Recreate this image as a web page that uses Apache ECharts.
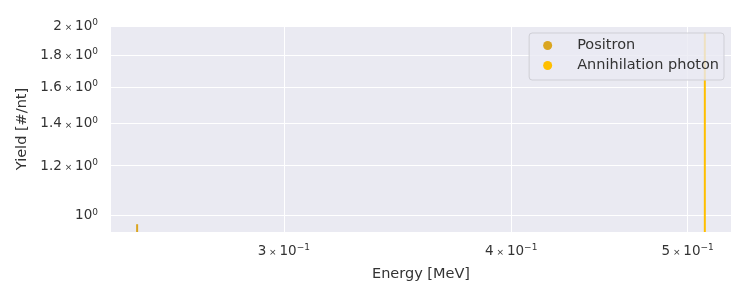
<!DOCTYPE html>
<html><head><meta charset="utf-8">
<script src="https://cdn.jsdelivr.net/npm/echarts@6/dist/echarts.min.js"></script>
<style>html,body{margin:0;padding:0;background:#fff}#c{width:750px;height:300px}</style>
</head><body><div id="c"></div>
<script>
const seriesNames = ['Positron', 'Annihilation photon'];
const energies = [0.2492, 0.511];
const yields = [0.968, 1.95];
const colors = ['#DAA520', '#FFBF00'];
const xTickValues = [0.3, 0.4, 0.5];
const xTickMant = ['3', '4', '5'];
const xTickExp = ['−1', '−1', '−1'];
const yTickValues = [1.0, 1.2, 1.4, 1.6, 1.8, 2.0];
const yTickMant = ['', '1.2', '1.4', '1.6', '1.8', '2'];
const yTickExp = ['0', '0', '0', '0', '0', '0'];
const xRange = [0.2411, 0.5282];
const yRange = [0.9408, 2.0];

const FONT = '"DejaVu Sans", sans-serif';
function fmt(vals, mant, exps) {
  return function (v) {
    let i = vals.findIndex(t => Math.abs(t - v) < 1e-9);
    if (i < 0) return '';
    let s = '';
    if (mant[i]) s += '{m|' + mant[i] + '}{x| × }';
    s += '{m|10}{e|' + exps[i] + '}';
    return s;
  };
}
const rich = {
  m: {fontSize: 13.5, color: '#333', fontFamily: FONT, lineHeight: 15, verticalAlign: 'bottom'},
  x: {fontSize: 9, color: '#333', fontFamily: FONT, lineHeight: 15, verticalAlign: 'bottom', padding: [0, 0, 1, 0]},
  e: {fontSize: 9, color: '#333', fontFamily: FONT, lineHeight: 15, verticalAlign: 'top'}
};

const series = seriesNames.map((n, i) => ({
  name: n,
  type: 'line',
  showSymbol: false,
  symbol: 'circle',
  color: colors[i],
  lineStyle: {width: 2, color: colors[i]},
  data: [[energies[i], yRange[0]], [energies[i], yields[i]]],
  animation: false
}));

const chart = echarts.init(document.getElementById('c'));
chart.setOption({
  animation: false,
  grid: {left: 111, right: 19, top: 26, bottom: 68, show: true, backgroundColor: '#EAEAF2', borderWidth: 0},
  legend: {
    right: 26, top: 33, orient: 'vertical', icon: 'circle', itemWidth: 9, itemHeight: 9, itemGap: 3,
    padding: [4, 5, 6, 14],
    backgroundColor: 'rgba(234,234,242,0.8)', borderColor: '#cfcfd6', borderWidth: 1, borderRadius: 3,
    textStyle: {fontSize: 14.5, lineHeight: 17, color: '#333', fontFamily: FONT, padding: [0, 0, 0, 20]},
    data: seriesNames
  },
  xAxis: {
    type: 'log', min: xRange[0], max: xRange[1],
    name: 'Energy [MeV]', nameLocation: 'middle', nameGap: 35,
    nameTextStyle: {fontSize: 14.5, color: '#333', fontFamily: FONT},
    axisLine: {show: false}, axisTick: {show: false, customValues: xTickValues},
    axisLabel: {customValues: xTickValues, formatter: fmt(xTickValues, xTickMant, xTickExp), rich: rich, margin: 11},
    splitLine: {show: true, lineStyle: {color: '#fff', width: 1}}
  },
  yAxis: {
    type: 'log', min: yRange[0], max: yRange[1],
    name: 'Yield [#/nt]', nameLocation: 'middle', nameGap: 80,
    nameTextStyle: {fontSize: 14.5, color: '#333', fontFamily: FONT},
    axisLine: {show: false}, axisTick: {show: false, customValues: yTickValues},
    axisLabel: {customValues: yTickValues, formatter: fmt(yTickValues, yTickMant, yTickExp), rich: rich, margin: 13},
    splitLine: {show: true, lineStyle: {color: '#fff', width: 1}}
  },
  series: series
});
</script></body></html>
